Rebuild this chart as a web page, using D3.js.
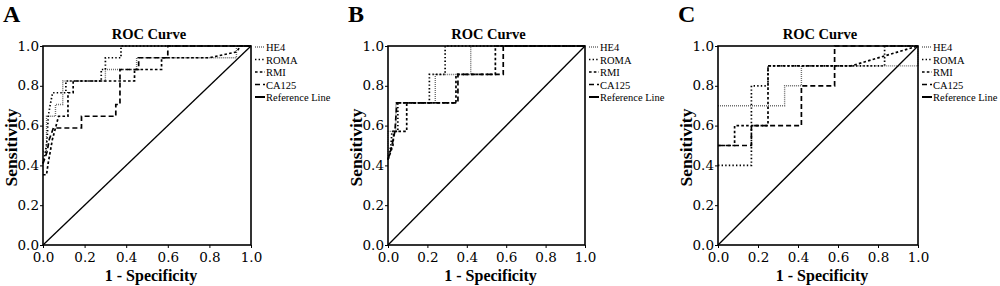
<!DOCTYPE html>
<html>
<head>
<meta charset="utf-8">
<script src="https://cdn.jsdelivr.net/npm/d3@7"></script>
<style>
  body { margin: 0; background: #fff; }
  svg { display: block; }
</style>
</head>
<body>
<script>
// legend order and tick values
const seriesNames = ["HE4", "ROMA", "RMI", "CA125", "Reference Line"];
const panelLetters = ["A", "B", "C"];
const tickValues = [0, 0.2, 0.4, 0.6, 0.8, 1.0];
const referenceLine = [[0, 0], [1, 1]];

// panel A  [1 - specificity, sensitivity]
const heA = [[0,0.47],[0.017,0.47],[0.017,0.647],[0.06,0.647],[0.06,0.706],[0.095,0.706],[0.095,0.824],[0.3,0.824],[0.3,0.882],[0.45,0.882],[0.45,0.941],[0.93,0.941],[0.93,1],[1,1]];
const romaA = [[0,0.41],[0.012,0.47],[0.02,0.53],[0.025,0.647],[0.035,0.706],[0.046,0.765],[0.11,0.765],[0.11,0.824],[0.28,0.824],[0.28,0.882],[0.3,0.882],[0.3,0.941],[0.375,0.941],[0.375,1],[1,1]];
const rmiA = [[0,0.353],[0.017,0.353],[0.025,0.412],[0.035,0.47],[0.045,0.53],[0.06,0.588],[0.075,0.647],[0.12,0.647],[0.12,0.765],[0.145,0.765],[0.145,0.824],[0.44,0.824],[0.44,0.882],[0.57,0.882],[0.57,0.941],[0.8,0.941],[0.93,0.97],[0.95,1],[1,1]];
const caA = [[0,0.41],[0.02,0.47],[0.03,0.53],[0.05,0.588],[0.185,0.588],[0.185,0.647],[0.35,0.647],[0.35,0.706],[0.37,0.706],[0.37,0.882],[0.46,0.882],[0.46,0.941],[0.6,0.941],[0.6,1],[1,1]];

// panel B
const heB = [[0,0.429],[0,0.571],[0.04,0.571],[0.04,0.714],[0.24,0.714],[0.24,0.857],[0.42,0.857],[0.42,1],[1,1]];
const romaB = [[0,0.429],[0.015,0.5],[0.02,0.571],[0.05,0.571],[0.05,0.714],[0.21,0.714],[0.21,0.857],[0.29,0.857],[0.29,1],[1,1]];
const rmiB = [[0,0.429],[0.025,0.5],[0.03,0.571],[0.095,0.571],[0.095,0.714],[0.345,0.714],[0.345,0.857],[0.545,0.857],[0.545,1],[1,1]];
const caB = [[0,0.429],[0.02,0.5],[0.035,0.571],[0.045,0.714],[0.355,0.714],[0.355,0.857],[0.585,0.857],[0.585,1],[1,1]];

// panel C
const heC = [[0,0.7],[0.333,0.7],[0.333,0.8],[0.417,0.8],[0.417,0.9],[1,0.9],[1,1]];
const romaC = [[0,0.4],[0.167,0.4],[0.167,0.8],[0.25,0.8],[0.25,0.9],[0.833,0.9],[0.833,1],[1,1]];
const rmiC = [[0,0.5],[0.083,0.5],[0.083,0.6],[0.25,0.6],[0.25,0.9],[0.667,0.9],[0.833,0.95],[1,1]];
const caC = [[0,0.5],[0.167,0.5],[0.167,0.6],[0.417,0.6],[0.417,0.8],[0.583,0.8],[0.583,1],[1,1]];

(function() {
  let svg = d3.select("body").append("svg")
    .attr("width", 1000)
    .attr("height", 286);

  // line look for each series, same order as seriesNames
  let styles = [
    { stroke: "#6e6e6e", dash: "1,1", width: 1.4 },
    { stroke: "#000", dash: "1.4,2.2", width: 1.7 },
    { stroke: "#000", dash: "2.6,2.2", width: 1.7 },
    { stroke: "#000", dash: "5,3", width: 1.7 },
    { stroke: "#000", dash: null, width: 1.3 }
  ];

  let panels = [
    { left: 43, right: 251, curves: [heA, romaA, rmiA, caA, referenceLine] },
    { left: 388, right: 585, curves: [heB, romaB, rmiB, caB, referenceLine] },
    { left: 718, right: 918, curves: [heC, romaC, rmiC, caC, referenceLine] }
  ];
  let top = 46, bottom = 245;

  panels.forEach((p, i) => drawPanel(p, i));

  function drawPanel(p, i) {
    let x = d3.scaleLinear().domain([0, 1]).range([p.left, p.right]);
    let y = d3.scaleLinear().domain([0, 1]).range([bottom, top]);
    let g = svg.append("g");

    // panel letter
    g.append("text")
      .attr("x", p.left - 40)
      .attr("y", 22)
      .style("font-family", "'Liberation Serif', serif")
      .style("font-weight", "bold")
      .style("font-size", "24px")
      .text(panelLetters[i]);

    // title
    g.append("text")
      .attr("x", (p.left + p.right) / 2 + 2)
      .attr("y", 39)
      .attr("text-anchor", "middle")
      .style("font-family", "'Liberation Serif', serif")
      .style("font-weight", "bold")
      .style("font-size", "14.5px")
      .text("ROC Curve");

    // axes
    let fmt = d3.format(".1f");
    let xAxis = g.append("g")
      .attr("transform", `translate(0,${bottom})`)
      .call(d3.axisBottom(x).tickValues(tickValues).tickFormat(fmt).tickSize(3).tickPadding(4));
    let yAxis = g.append("g")
      .attr("transform", `translate(${p.left},0)`)
      .call(d3.axisLeft(y).tickValues(tickValues).tickFormat(fmt).tickSize(3).tickPadding(1));
    [xAxis, yAxis].forEach(a => {
      a.select(".domain").remove();
      a.selectAll("line").attr("stroke", "#000");
      a.selectAll("text")
        .attr("fill", "#000")
        .style("font-family", "'DejaVu Serif', serif")
        .style("font-size", "13.5px");
    });
    yAxis.selectAll("text").attr("dy", "0.3em");

    // axis titles
    g.append("text")
      .attr("x", (p.left + p.right) / 2 + 4)
      .attr("y", 281)
      .attr("text-anchor", "middle")
      .style("font-family", "'Liberation Serif', serif")
      .style("font-weight", "bold")
      .style("font-size", "16px")
      .text("1 - Specificity");
    g.append("text")
      .attr("transform", `translate(${p.left - 26},${(top + bottom) / 2 + 2}) rotate(-90)`)
      .attr("text-anchor", "middle")
      .style("font-family", "'Liberation Serif', serif")
      .style("font-weight", "bold")
      .style("font-size", "17.5px")
      .text("Sensitivity");

    // curves
    let line = d3.line().x(d => x(d[0])).y(d => y(d[1]));
    p.curves.forEach((c, k) => {
      g.append("path")
        .datum(c)
        .attr("d", line)
        .attr("fill", "none")
        .attr("stroke", styles[k].stroke)
        .attr("stroke-width", styles[k].width)
        .attr("stroke-dasharray", styles[k].dash);
    });

    // frame
    g.append("rect")
      .attr("x", p.left)
      .attr("y", top)
      .attr("width", p.right - p.left)
      .attr("height", bottom - top)
      .attr("fill", "none")
      .attr("stroke", "#000")
      .attr("stroke-width", 1.6);

    // legend
    let ly = d3.scalePoint().domain(seriesNames).range([47, 97]);
    let lg = g.append("g");
    seriesNames.forEach((name, k) => {
      lg.append("line")
        .attr("x1", p.right + 4)
        .attr("x2", p.right + 14)
        .attr("y1", ly(name))
        .attr("y2", ly(name))
        .attr("stroke", styles[k].stroke)
        .attr("stroke-width", k == 4 ? 2 : styles[k].width)
        .attr("stroke-dasharray", styles[k].dash);
      lg.append("text")
        .attr("x", p.right + 15)
        .attr("y", ly(name) + 4)
        .style("font-family", "'Liberation Serif', serif")
        .style("font-size", "10.5px")
        .text(name);
    });
  }
})();
</script>
</body>
</html>
